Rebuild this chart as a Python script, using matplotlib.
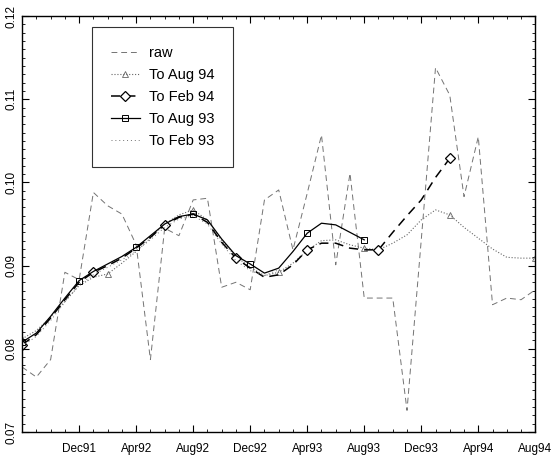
import matplotlib
matplotlib.use("Agg")
import matplotlib.pyplot as plt
from matplotlib.legend_handler import HandlerLine2D

plt.rcParams['font.family'] = ['Liberation Sans', 'DejaVu Sans']

# months since Aug91 (Aug91 .. Aug94)
months = list(range(37))
tick_pos = [4, 8, 12, 16, 20, 24, 28, 32, 36]
tick_lab = ['Dec91', 'Apr92', 'Aug92', 'Dec92', 'Apr93', 'Aug93', 'Dec93', 'Apr94', 'Aug94']

raw = [0.0778, 0.0766, 0.0787, 0.0892, 0.0883, 0.0988, 0.0972, 0.0962, 0.0925, 0.0787,
       0.0945, 0.0936, 0.0979, 0.0981, 0.0874, 0.0880, 0.0871, 0.0979, 0.0991, 0.0919,
       0.0987, 0.1057, 0.0901, 0.1011, 0.0861, 0.0861, 0.0861, 0.0726, 0.0931, 0.1138,
       0.1105, 0.0983, 0.1055, 0.0853, 0.0861, 0.0859, 0.0871]

to_aug94 = [0.0812, 0.0822, 0.0838, 0.0857, 0.0876, 0.0886, 0.0890, 0.0903, 0.0917, 0.0933,
            0.0950, 0.0961, 0.0967, 0.0955, 0.0930, 0.0911, 0.0898, 0.0888, 0.0892, 0.0903,
            0.0918, 0.0930, 0.0931, 0.0925, 0.0921, 0.0919, 0.0927, 0.0937, 0.0955, 0.0967,
            0.0961, 0.0946, 0.0933, 0.0920, 0.0910, 0.0909, 0.0909]

to_feb94 = [0.0805, 0.0817, 0.0837, 0.0859, 0.0880, 0.0892, 0.0900, 0.0909, 0.0921, 0.0934,
            0.0949, 0.0958, 0.0962, 0.0952, 0.0928, 0.0909, 0.0897, 0.0886, 0.0889, 0.0901,
            0.0919, 0.0927, 0.0927, 0.0921, 0.0919, 0.0919, 0.0940, 0.0960, 0.0979, 0.1006,
            0.1029]

to_aug93 = [0.0808, 0.0819, 0.0839, 0.0861, 0.0882, 0.0893, 0.0902, 0.0911, 0.0922, 0.0936,
            0.0950, 0.0959, 0.0962, 0.0955, 0.0932, 0.0912, 0.0902, 0.0891, 0.0897, 0.0917,
            0.0939, 0.0951, 0.0949, 0.0940, 0.0931]

to_feb93 = [0.0803, 0.0815, 0.0834, 0.0856, 0.0877, 0.0889, 0.0898, 0.0907, 0.0918, 0.0931,
            0.0946, 0.0956, 0.0960, 0.0950, 0.0926, 0.0906, 0.0894, 0.0888, 0.0895]


class LeftMarker(HandlerLine2D):
    # marker drawn at the left end of the legend line
    def get_xdata(self, legend, xdescent, ydescent, width, height, fontsize):
        xdata = [-xdescent, -xdescent + width]
        return xdata, [-xdescent + 2]


fig = plt.figure(figsize=(5.53, 4.61), dpi=100)
ax = fig.add_axes([0.040, 0.063, 0.928, 0.902])

ax.plot(months, raw, color='0.45', lw=0.7, dashes=(6, 4), label='raw')
ax.plot(months, to_aug94, color='0.4', lw=0.8, ls=':', marker='^', mfc='none',
        ms=5, mew=0.6, markevery=6, label='To Aug 94')
ax.plot(months[:len(to_feb94)], to_feb94, color='black', lw=1.1, dashes=(6, 4),
        marker='D', mfc='white', ms=5, mew=0.9, markevery=5, label='To Feb 94')
ax.plot(months[:len(to_aug93)], to_aug93, color='black', lw=0.9, ls='-', marker='s',
        mfc='none', ms=5, mew=0.7, markevery=4, label='To Aug 93')
ax.plot(months[:len(to_feb93)], to_feb93, color='0.45', lw=0.7, dashes=(1, 3),
        label='To Feb 93')

ax.set_xlim(0, 36)
ax.set_ylim(0.07, 0.12)
ax.set_xticks(tick_pos)
ax.set_xticklabels(tick_lab)
ax.set_xticks(months, minor=True)
ax.set_yticks([0.07, 0.08, 0.09, 0.10, 0.11, 0.12])
ax.set_yticklabels(['0.07', '0.08', '0.09', '0.10', '0.11', '0.12'])
ax.set_yticks([0.07 + 0.001 * k for k in range(51)], minor=True)
ax.tick_params(which='both', direction='in', top=True, right=True, labelsize=8.5)
ax.tick_params(which='major', length=5, width=0.8)
ax.tick_params(which='minor', length=2.5, width=0.6)
ax.tick_params(axis='x', pad=8)
ax.tick_params(axis='y', pad=3)
plt.setp(ax.get_yticklabels(), rotation=90, va='center')
for s in ax.spines.values():
    s.set_linewidth(1.0)

handles, labels = ax.get_legend_handles_labels()
leg = ax.legend(handles, labels, loc='upper left', bbox_to_anchor=(0.136, 0.974),
                borderaxespad=0, fontsize=10.5, frameon=True, fancybox=False,
                edgecolor='black', handlelength=2.0, handletextpad=0.6,
                labelspacing=0.55, borderpad=1.3, numpoints=1,
                handler_map={h: LeftMarker() for h in handles})
leg.get_frame().set_linewidth(0.8)

fig.savefig('out.png', dpi=100)
